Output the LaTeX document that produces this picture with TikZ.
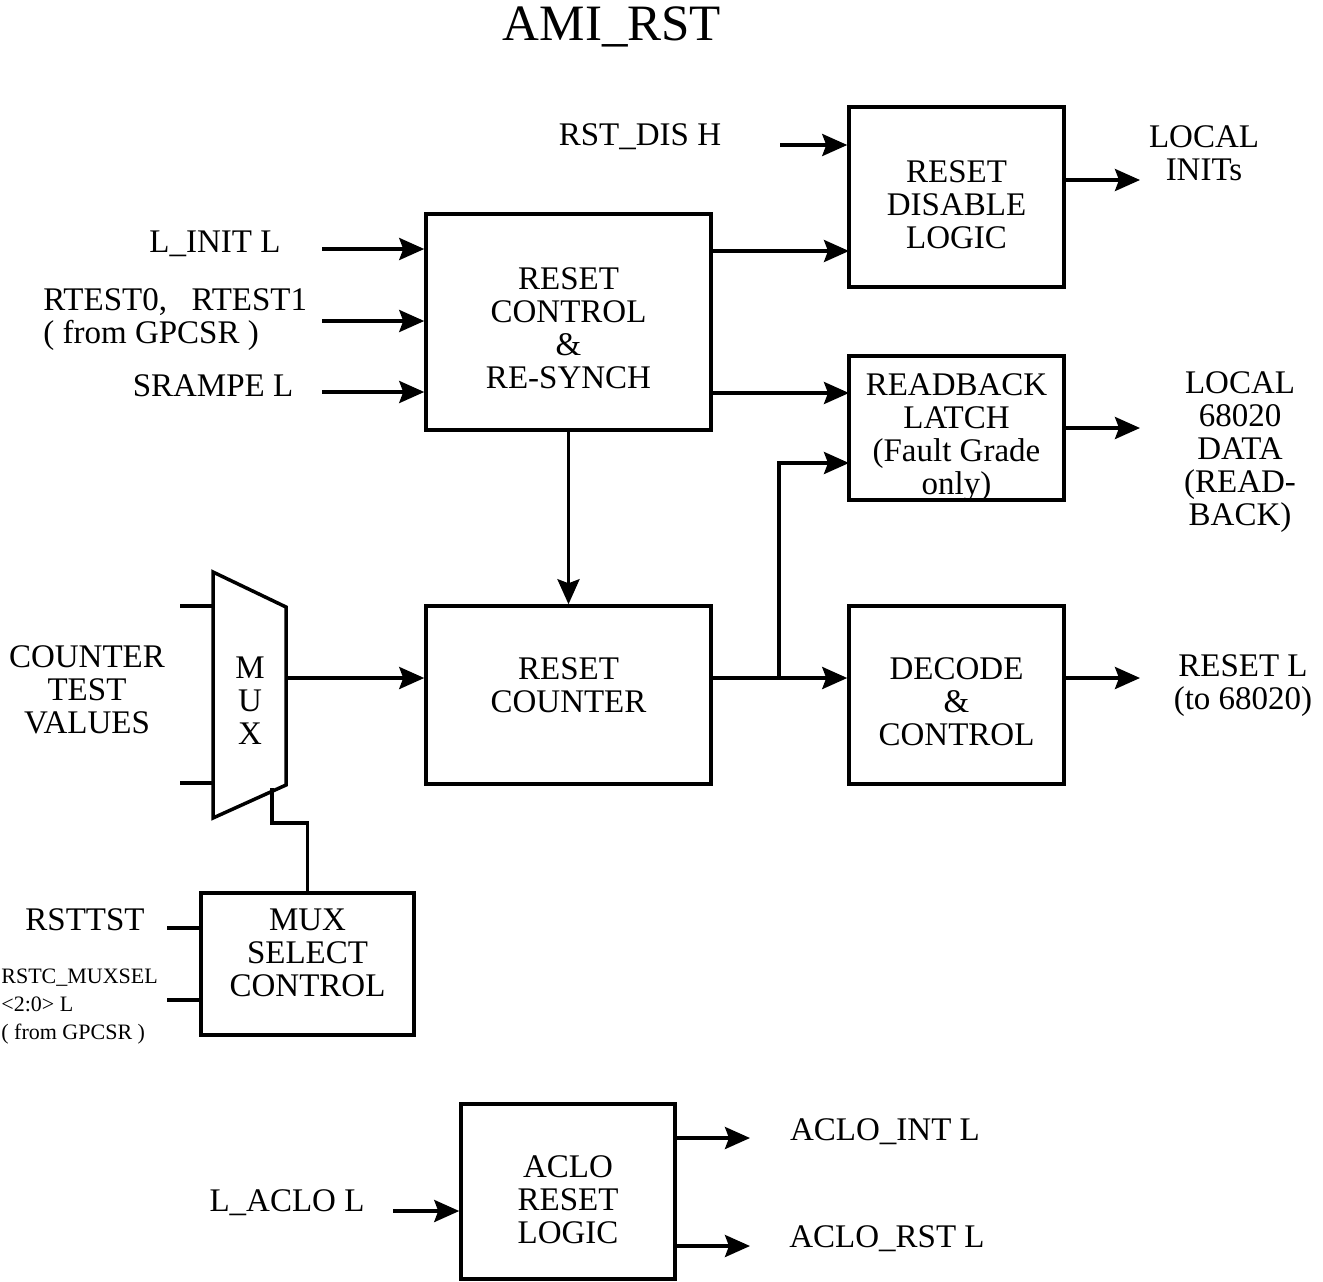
\documentclass[tikz,border=0pt]{standalone}
\usepackage{fontspec}
\setmainfont{Liberation Serif}
\usetikzlibrary{arrows.meta}
\begin{document}
\begin{tikzpicture}[x=0.5pt,y=-0.5pt,
  box/.style={draw,line width=1.75pt,inner sep=0pt},
  lbl/.style={align=center,inner sep=0pt,font=\fontsize{16.5}{16.5}\selectfont},
  btxt/.style={label={[lbl,yshift=#1]center:}},
  sml/.style={align=left,inner sep=0pt,font=\fontsize{11}{14}\selectfont},
  wire/.style={line width=1.75pt},
  arr/.style={line width=1.75pt,-{Stealth[length=12.5pt,width=11pt,inset=2pt]}}]
\useasboundingbox (0,0) rectangle (1323,1281);
% title
\node[inner sep=0pt,font=\fontsize{25.5}{28}\selectfont] (title) at (612,27) {AMI\_RST};
% boxes
\node[box,minimum width=142.5pt,minimum height=108pt,
  label={[lbl,yshift=-3pt]center:{RESET\\CONTROL\\\&\\RE-SYNCH}}] (rc) at (568.5,322) {};
\node[box,minimum width=107.5pt,minimum height=90pt,
  label={[lbl,yshift=-3.75pt]center:{RESET\\DISABLE\\LOGIC}}] (rdl) at (956.5,197) {};
\node[box,minimum width=107.5pt,minimum height=72pt,
  label={[lbl,yshift=-4.75pt]center:{READBACK\\LATCH\\(Fault Grade\\only)}}] (rbl) at (956.5,428) {};
\node[box,minimum width=142.5pt,minimum height=89pt,
  label={[lbl,yshift=4.75pt]center:{RESET\\COUNTER}}] (cnt) at (568.5,695) {};
\node[box,minimum width=107.5pt,minimum height=89pt,
  label={[lbl,yshift=-3.5pt]center:{DECODE\\\&\\CONTROL}}] (dec) at (956.5,695) {};
\node[box,minimum width=106.5pt,minimum height=71pt,
  label={[lbl,yshift=5.5pt]center:{MUX\\SELECT\\CONTROL}}] (msc) at (307.5,964) {};
\node[box,minimum width=107pt,minimum height=87.5pt,
  label={[lbl,yshift=-4pt]center:{ACLO\\RESET\\LOGIC}}] (aclo) at (568,1191.5) {};
% mux
\coordinate (mtl) at (213,572);
\coordinate (mtr) at (286,607);
\coordinate (mbr) at (286,785);
\coordinate (mbl) at (213,818);
\draw[wire,line join=miter] (mtl) -- (mtr) -- (mbr) -- (mbl) -- cycle;
\node[lbl] (muxt) at (250,701) {M\\U\\X};
\coordinate (mo) at (286,678);
\coordinate (min1) at (213,606);
\coordinate (min2) at (213,783);
\coordinate (ms) at (272,788);
% labels
\node[lbl] (rstdis) at (640,137) {RST\_DIS H};
\node[lbl] (linit) at (215,244) {L\_INIT L};
\node[lbl,align=left,anchor=west] (rtest) at (43,320) {RTEST0,\ \ \ RTEST1\\( from GPCSR )};
\node[lbl] (srampe) at (213,386) {SRAMPE L};
\node[lbl] (ctv) at (87,690) {COUNTER\\TEST\\VALUES};
\node[lbl] (rsttst) at (85,920) {RSTTST};
\node[sml,anchor=west] (muxsel) at (1,1007) {RSTC\_MUXSEL\\<2:0> L\\( from GPCSR )};
\node[lbl] (laclo) at (287,1203) {L\_ACLO L};
\node[lbl] (aint) at (885,1132) {ACLO\_INT L};
\node[lbl] (arst) at (887,1239) {ACLO\_RST L};
\node[lbl] (linits) at (1204,153) {LOCAL\\INITs};
\node[lbl] (ldata) at (1240,452) {LOCAL\\68020\\DATA\\(READ-\\BACK)};
\node[lbl] (rstl) at (1243,686) {RESET L\\(to 68020)};
% free ends
\coordinate (a1) at (322,249);
\coordinate (a2) at (322,321);
\coordinate (a3) at (322,392);
\coordinate (a4) at (780,145);
\coordinate (o1) at (1140,180);
\coordinate (o2) at (1140,428);
\coordinate (o3) at (1140,678);
\coordinate (i1) at (849,251);
\coordinate (i2) at (849,393);
\coordinate (i3) at (849,463);
\coordinate (br) at (779,678);
\coordinate (t1) at (180,606);
\coordinate (t2) at (180,783);
\coordinate (s1) at (167,928);
\coordinate (s2) at (167,1000);
\coordinate (l1) at (393,1211);
\coordinate (e1) at (750,1138);
\coordinate (e2) at (750,1246);
% connectors
\draw[arr] (a1) -- (a1 -| rc.west);
\draw[arr] (a2) -- (a2 -| rc.west);
\draw[arr] (a3) -- (a3 -| rc.west);
\draw[arr] (a4) -- (a4 -| rdl.west);
\draw[arr] (i1 -| rc.east) -- (i1);
\draw[arr] (i2 -| rc.east) -- (i2);
\draw[arr] (rc.south) -- (cnt.north);
\draw[arr] (o1 -| rdl.east) -- (o1);
\draw[arr] (o2 -| rbl.east) -- (o2);
\draw[arr] (o3 -| dec.east) -- (o3);
\draw[arr] (mo) -- (mo -| cnt.west);
\draw[arr] (cnt.east |- br) -- (br -| dec.west);
\draw[arr] (br) |- (i3);
\draw[wire] (t1) -- (min1);
\draw[wire] (t2) -- (min2);
\draw[wire] (ms) -- ++(0,35) -| (msc.north);
\draw[wire] (s1) -- (s1 -| msc.west);
\draw[wire] (s2) -- (s2 -| msc.west);
\draw[arr] (l1) -- (l1 -| aclo.west);
\draw[arr] (e1 -| aclo.east) -- (e1);
\draw[arr] (e2 -| aclo.east) -- (e2);
\end{tikzpicture}
\end{document}
